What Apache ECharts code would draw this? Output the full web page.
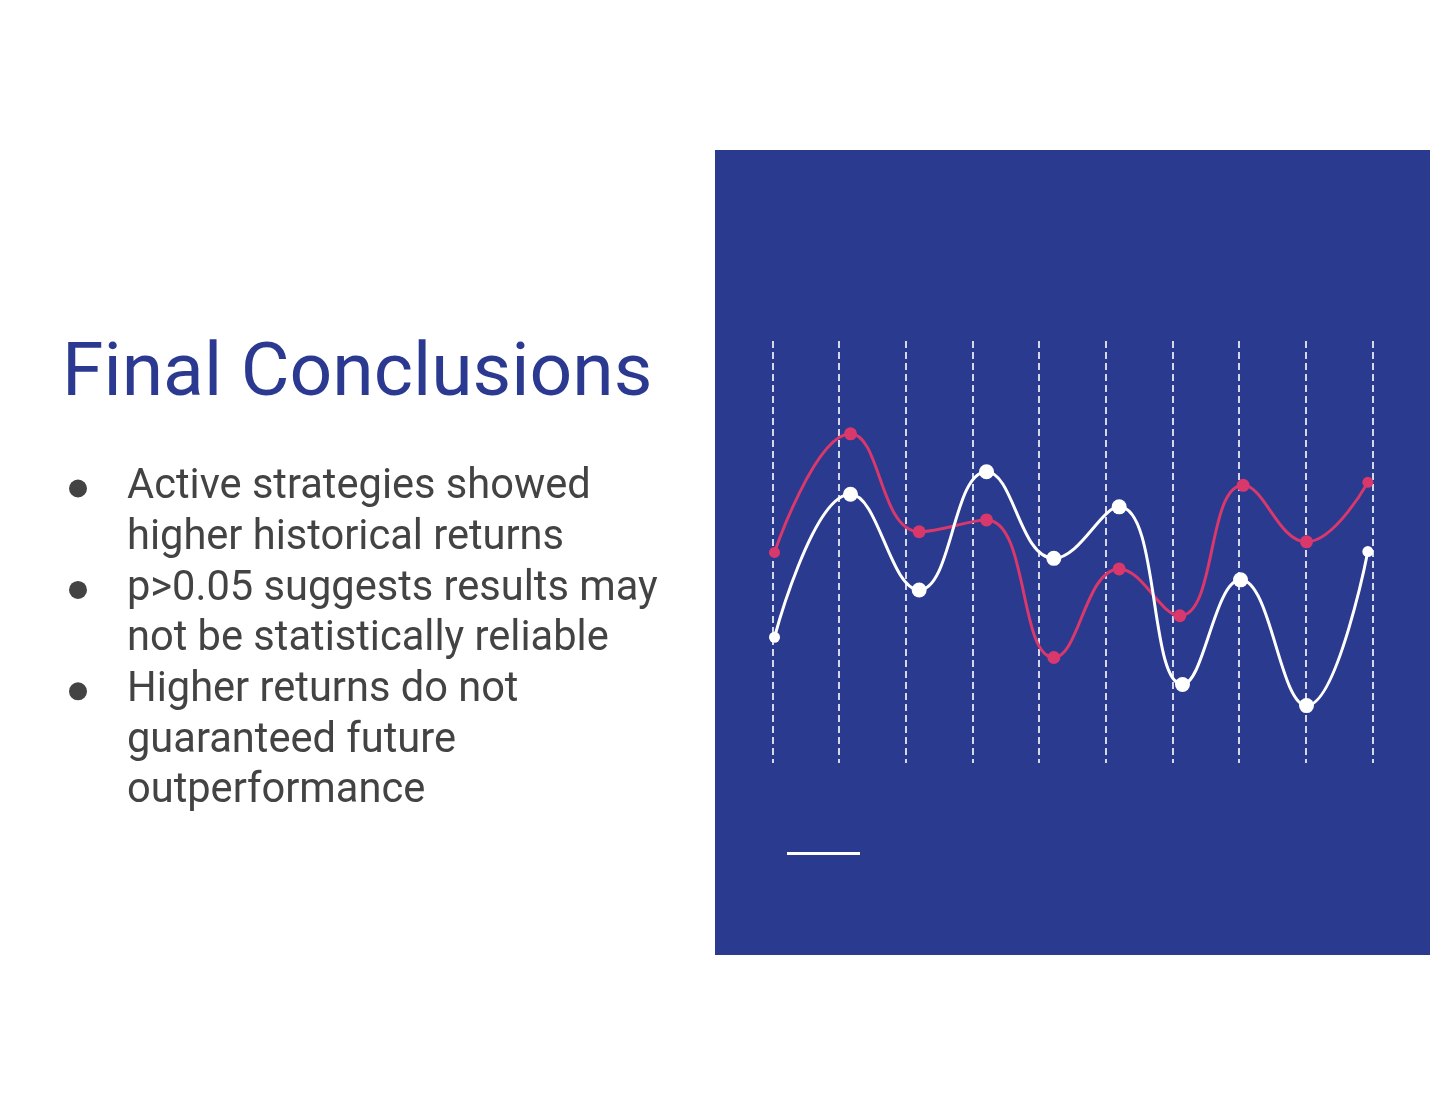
<!DOCTYPE html>
<html>
<head>
<meta charset="utf-8">
<title>Final Conclusions</title>
<script src="https://cdn.jsdelivr.net/npm/echarts@6/dist/echarts.min.js"></script>
<style>
  html, body { margin: 0; padding: 0; background: #ffffff; }
  #main { width: 1430px; height: 1105px; }
</style>
</head>
<body>
<div id="main"></div>
<script>
// slide text
var titleText = 'Final Conclusions';
var bullets = [
    ['Active strategies showed', 'higher historical returns'],
    ['p>0.05 suggests results may', 'not be statistically reliable'],
    ['Higher returns do not', 'guaranteed future', 'outperformance']
];

var redX   = [0.03, 1.17, 2.20, 3.21, 4.22, 5.20, 6.11, 7.06, 8.01, 8.93];
var redY   = [4.99, 7.80, 5.48, 5.76, 2.50, 4.60, 3.49, 6.58, 5.24, 6.65];
var whiteX = [0.03, 1.17, 2.20, 3.21, 4.22, 5.20, 6.15, 7.02, 8.01, 8.93];
var whiteY = [2.98, 6.37, 4.10, 6.90, 4.85, 6.07, 1.86, 4.34, 1.36, 5.01];

var BLUE = '#2a3a8e';
var RED = '#d8386b';

function pairs(xs, ys) {
    return xs.map(function (x, i) { return [x, ys[i]]; });
}

// build the bullet list as graphic texts
var textTop = 468.5;
var lineH = 50.7;
var graphics = [
    {
        type: 'rect', z: -10,
        shape: {x: 715, y: 150, width: 715, height: 805},
        style: {fill: BLUE}
    },
    {
        type: 'text', left: 62, top: 339,
        style: {
            text: titleText, fill: '#2b3990',
            font: '75px Roboto'
        }
    },
    {
        // short white rule under the plot
        type: 'rect',
        shape: {x: 787, y: 852, width: 73, height: 3},
        style: {fill: '#ffffff'}
    }
];
var row = 0;
bullets.forEach(function (lines) {
    graphics.push({
        type: 'circle',
        shape: {cx: 78, cy: textTop + row * lineH + 20, r: 9},
        style: {fill: '#434343'}
    });
    graphics.push({
        type: 'text', left: 127, top: textTop + row * lineH - 6,
        style: {
            text: lines.join('\n'), fill: '#434343',
            font: '41.6px Roboto', lineHeight: lineH
        }
    });
    row += lines.length;
});

var myChart = echarts.init(document.getElementById('main'));

var option = {
    backgroundColor: '#ffffff',
    animation: false,
    graphic: graphics,
    grid: {
        left: 772.5,
        right: 57.5,
        top: 341,
        bottom: 342
    },
    xAxis: {
        type: 'value',
        min: 0,
        max: 9,
        interval: 1,
        z: 1,
        axisLine: {show: false},
        axisTick: {show: false},
        axisLabel: {show: false},
        splitLine: {
            show: true,
            lineStyle: {color: '#ffffff', width: 1.6, type: [7, 4]}
        }
    },
    yAxis: {
        type: 'value',
        min: 0,
        max: 10,
        show: false,
        splitLine: {show: false}
    },
    series: [
        {
            name: 'red',
            type: 'line',
            smooth: 0.45,
            data: pairs(redX, redY),
            symbol: 'circle',
            symbolSize: function (v, p) {
                return (p.dataIndex === 0 || p.dataIndex === redX.length - 1) ? 11 : 13;
            },
            lineStyle: {color: RED, width: 3},
            itemStyle: {color: RED}
        },
        {
            name: 'white',
            type: 'line',
            smooth: 0.45,
            data: pairs(whiteX, whiteY),
            symbol: 'circle',
            symbolSize: function (v, p) {
                return (p.dataIndex === 0 || p.dataIndex === whiteX.length - 1) ? 11 : 15;
            },
            lineStyle: {color: '#ffffff', width: 3},
            itemStyle: {color: '#ffffff'}
        }
    ]
};

myChart.setOption(option);
</script>
</body>
</html>
